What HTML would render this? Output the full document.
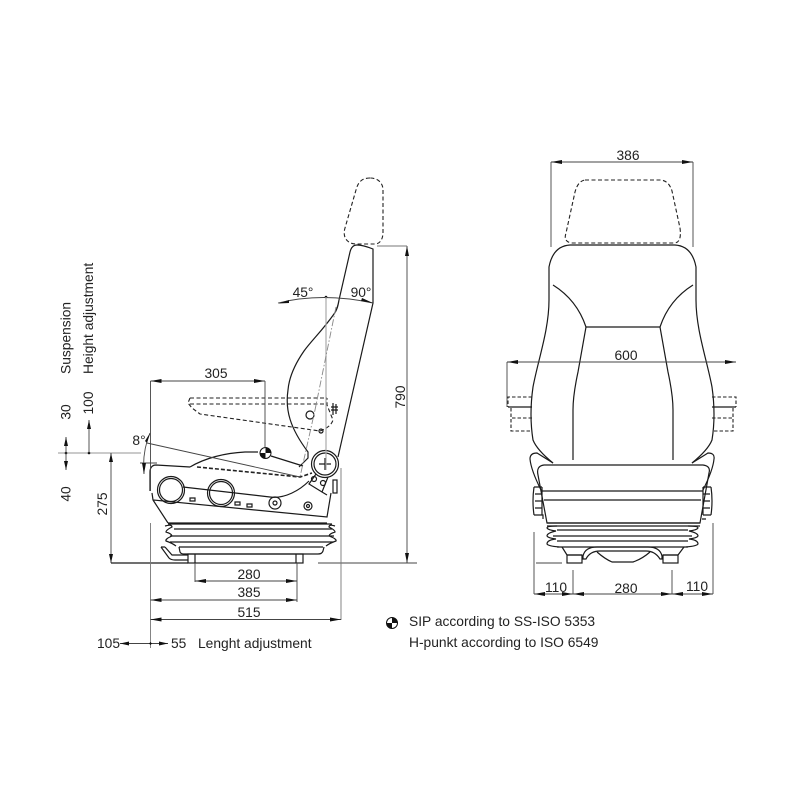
<!DOCTYPE html>
<html><head><meta charset="utf-8"><style>
html,body{margin:0;padding:0;background:#fff}
svg{display:block}
text{font-family:"Liberation Sans",sans-serif;font-size:13.8px;fill:#222}
.m{text-anchor:middle}
.s{fill:none;stroke:#1a1a1a;stroke-width:1.2}
.d{fill:none;stroke:#222;stroke-width:1.1;stroke-dasharray:4 2.5}
.t{fill:none;stroke:#444;stroke-width:.9}
.g{fill:none;stroke:#aaa;stroke-width:1.2}
.a{fill:#111}
</style></head><body>
<svg width="800" height="800" viewBox="0 0 800 800" xmlns="http://www.w3.org/2000/svg">
<rect width="800" height="800" fill="#fff"/>

<!-- SIDE VIEW -->
<path class="d" d="M370 178C362 178 358 182 356 190L345 228C342 238 348 244 356 244H376C381 243 383 238 383 232V190C383 183 378 178 370 178Z"/>
<path class="s" d="M339 300L350 252C351 248 353 245 357 245C362 245 368 247 373 249V303L338 457"/>
<path class="s" d="M339 300C338 306 337 310 334 314C322 331 312 340 304 351C295 364 289 378 288 390C285 410 290 428 308 452L308 458L299 467"/>
<path class="s" d="M190 467C205 458 225 453 245 452L258 452M271 456L303 466"/>
<path class="d" style="stroke-width:1.6;stroke-dasharray:4 2" d="M197 467L300 477L312 473"/>
<path class="s" d="M190 467L156 465C152 465 150 468 150 472V491M183 487L270 497C285 499 300 490 309 481"/>
<path class="s" d="M153 500L168 523M152 493L153 500L327 517L331 493M168 523H327"/>
<circle class="s" cx="171" cy="490" r="13.5"/><circle class="s" cx="171" cy="490" r="11.5"/>
<circle class="s" cx="221" cy="493" r="13.5"/><circle class="s" cx="221" cy="493" r="11.5"/>
<path class="s" fill="#fff" d="M190 498h5v3h-5zM235 502h5v3h-5zM247 504h5v3h-5z"/>
<circle class="s" cx="275" cy="503" r="6"/><circle class="s" cx="275" cy="503" r="2"/>
<circle class="s" cx="308" cy="506" r="4"/><circle class="s" cx="308" cy="506" r="1.5"/>
<circle cx="325" cy="464" r="13.5" fill="#fff" stroke="#1a1a1a" stroke-width="1.2"/>
<circle class="s" cx="325" cy="464" r="11"/>
<path class="s" d="M325 458v12M319 464h12"/>
<path class="s" d="M316 474L309 484L322 492L328 477M322 492L327 495"/>
<circle class="s" cx="314" cy="479" r="2.5"/><circle class="s" cx="323" cy="483" r="2.5"/>
<rect class="s" x="333" y="480" width="4" height="13"/>
<!-- bellows -->
<path class="s" d="M168 524H332M174 529H332M170 536H334M170 542H334M179 547H323M165 526Q172 524 172 527Q166 530 166 532Q172 534 172 536Q165 539 166 541Q172 543 176 546M335 526Q329 524 329 527Q335 530 335 532Q329 534 329 536Q337 539 336 541Q330 543 326 546"/>
<path class="s" d="M179 547L180 552Q181 554 184 554H318Q322 554 323 551L324 547"/>
<rect class="s" x="188" y="554" width="115" height="9"/><path class="s" d="M195 554v9M296 554v9"/>
<path class="s" d="M161 547L169 558Q171 560 175 560H188M165 547L172 555H188M161 547H165"/>
<!-- armrest -->
<path class="d" d="M190 398H327M190 404H327M190 398L188 403L192 408L200 414L320 431Q331 427 333 420L327 405V398"/>
<circle class="s" cx="310" cy="415" r="4"/>
<circle class="s" cx="321" cy="431" r="2"/>
<path class="s" d="M333 403V415M336 404V414M331 407H338M331 410H338"/>
<!-- arc + angle -->
<path class="t" d="M278 303Q322 292 373 303"/>
<path class="a" d="M278 303.500L289 300L289 303ZM373 303L362 298L361 301Z"/>
<circle cx="326" cy="297" r="1.300" fill="#111"/>
<path class="g" d="M326 297V470"/>
<path fill="none" stroke="#888" stroke-width=".9" stroke-dasharray="7 2 1.500 2" d="M336 307L315 410L300 477"/>
<text x="303" y="297" class="m">45°</text>
<text x="361" y="297" class="m">90°</text>
<!-- SIP -->
<circle cx="265.500" cy="453" r="5.500" fill="#fff" stroke="#111"/>
<path class="a" d="M265.500 453V447.500A5.500 5.500 0 0 1 271 453ZM265.500 453V458.500A5.500 5.500 0 0 1 260 453Z"/>
<!-- dims side -->
<path class="t" d="M150.500 381H265M150.500 381V491M265 381V448"/>
<path class="a" d="M150.500 381l11-2v4zM265 381l-11-2v4z"/>
<text x="216" y="378" class="m">305</text>
<path class="t" d="M147 443L300 477M140 463H157M150 433Q142 452 144 474"/>
<path class="a" d="M150 433l-3 10-2-2zM144 474l-2-11 4 0z"/>
<text x="139" y="445" class="m">8°</text>
<path class="g" d="M58 453H141"/>
<circle cx="66" cy="453" r="1.300" fill="#111"/><circle cx="89" cy="453" r="1.300" fill="#111"/>
<path class="t" d="M66 437V470M89 420V453M111 453V563"/>
<path class="a" d="M66 437l-2 9h4zM66 470l-2-9h4zM89 420l-2 9h4zM111 453l-2 9h4zM111 563l-2-9h4z"/>
<path class="s" d="M111 563H188"/>
<path class="t" d="M318 563H417M407 246V563M195 563V582M297 563V602"/>
<path class="g" d="M377 246H407M341 468V620M150.500 523V648" style="stroke-width:.9;stroke:#777"/>
<path class="a" d="M407 246l-2 10h4zM407 563l-2-10h4z"/>
<path class="t" d="M195 581H297M150.500 600H297M150.500 619.500H341M120 643.500H168"/>
<path class="a" d="M195 581l11-2v4zM297 581l-11-2v4zM150.500 600l11-2v4zM297 600l-11-2v4zM150.500 619.500l11-2v4zM341 619.500l-11-2v4zM120 643.500l9-2v4zM168 643.500l-9-2v4zM150.500 642l1.500 1.500-1.500 1.500-1.500-1.500z"/>
<text x="249" y="579" class="m">280</text>
<text x="249" y="597" class="m">385</text>
<text x="249" y="617" class="m">515</text>
<text x="97" y="648">105</text>
<text x="171" y="648">55</text>
<text x="198" y="648">Lenght adjustment</text>
<text transform="translate(405 397) rotate(-90)" class="m">790</text>
<text transform="translate(107 504) rotate(-90)" class="m">275</text>
<text transform="translate(70.500 412) rotate(-90)" class="m">30</text>
<text transform="translate(93 403) rotate(-90)" class="m">100</text>
<text transform="translate(70.500 494) rotate(-90)" class="m">40</text>
<text transform="translate(70.500 374) rotate(-90)">Suspension</text>
<text transform="translate(93 374) rotate(-90)">Height adjustment</text>

<!-- FRONT VIEW -->
<path class="t" d="M551 162H693M551 162V247M693 162V247"/>
<path class="a" d="M551 162l11-2v4zM693 162l-11-2v4z"/>
<text x="628" y="160" class="m">386</text>
<path class="d" d="M585 180H661Q669 181 672 191L680 228Q682 243 674 243H572Q563 242 566 233L575 192Q578 181 585 180Z"/>
<path class="s" d="M570 245H675Q692 246 696 267V300C696 330 707 360 712 387Q716 415 712 440Q708 450 692 463M570 245Q553 246 549 267V300C549 330 538 360 533 387Q529 415 533 440Q537 450 553 463"/>
<path class="s" d="M553 285Q577 300 586 327H660Q669 300 693 285"/>
<path class="s" d="M586 327L578 372Q573 395 573 410V460M660 327L668 372Q673 395 673 410V460"/>
<path class="t" d="M507 362H736M507 362V407"/>
<path class="a" d="M507 362l11-2v4zM736 362l-11-2v4z"/>
<text x="626" y="360" class="m">600</text>
<path class="d" style="stroke-dasharray:3.500 2" d="M532 397H508V407M532 418H511V431H532M511 408V418M712 397H736V407M712 418H733V431H712M733 408V418"/>
<path class="s" d="M508 407H532M712 407H736"/>
<!-- seat -->
<path class="s" d="M544 465H703Q711 466 709 473L700 523H547L538 475Q536 466 544 465Z"/>
<path class="s" d="M542 491H703M544 500H701"/>
<path class="s" d="M553 463L537 453Q530 453 530 459Q531 470 541 490M692 463L708 453Q715 453 714 459Q713 470 703 490"/>
<path class="s" d="M534 487h8M534 515h9V519M703 487h8M703 515h8M702 519h4"/>
<path class="s" d="M534 487Q532 501 534 515M542 487V515M711 487Q713 501 711 515M703 487V515M535 494h7M535 501h7M535 508h7M703 494h7M703 501h7M703 508h7"/>
<!-- bellows front -->
<path class="s" d="M547 523H700M547 526H700M557 530H688M553 536H692M557 541H688M557 547H688"/>
<path class="s" d="M557 526Q547 526 547 528Q548 530 556 531Q547 533 547 536Q548 538 556 539Q547 540 547 544Q548 546 559 547M688 526Q698 526 698 528Q697 530 689 531Q698 533 698 536Q697 538 689 539Q698 540 698 544Q697 546 686 547"/>
<path class="s" d="M562 547L567 555H582M684 547L678 555H663"/>
<rect class="s" x="567" y="555" width="15" height="8"/><rect class="s" x="663" y="555" width="15" height="8"/>
<path class="s" d="M583 559V556Q585 547 597 547H648Q660 547 662 556V559H660Q655 551 646 551H600Q590 551 586 559Z"/>
<path class="s" d="M597 552Q605 559 612 562H633Q642 559 650 552"/>
<path class="t" d="M534 532V594M713 523V594M573 570V594M672 570V594M534 594H713"/>
<path class="t" d="M536 563H562"/>
<path class="a" d="M534 594l11-2v4zM573 594l-11-2v4zM573 594l11-2v4zM672 594l-11-2v4zM672 594l11-2v4zM713 594l-11-2v4z"/>
<text x="556" y="592" class="m">110</text>
<text x="626" y="593" class="m">280</text>
<text x="697" y="591" class="m">110</text>

<!-- legend -->
<circle cx="392" cy="623" r="5.500" fill="#fff" stroke="#111"/>
<path class="a" d="M392 623V617.500A5.500 5.500 0 0 1 397.500 623ZM392 623V628.500A5.500 5.500 0 0 1 386.500 623Z"/>
<text x="409" y="626">SIP according to SS-ISO 5353</text>
<text x="409" y="647">H-punkt according to ISO 6549</text>
</svg>
</body></html>
